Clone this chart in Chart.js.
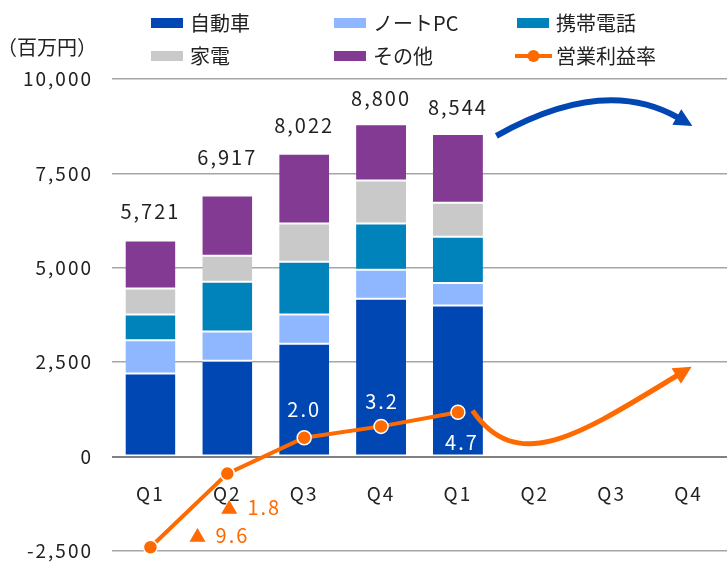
<!DOCTYPE html>
<html lang="ja">
<head>
<meta charset="utf-8">
<title>売上高と営業利益率</title>
<script src="https://cdn.jsdelivr.net/npm/chart.js@4.4.1/dist/chart.umd.min.js"></script>
<style>
  html, body { margin: 0; padding: 0; background: #fff; }
  #wrap { width: 727px; height: 565px; }
</style>
</head>
<body>
<div id="wrap"><canvas id="salesChart"></canvas></div>
<script>
// 四半期
const quarters = ['Q1', 'Q2', 'Q3', 'Q4', 'Q1', 'Q2', 'Q3', 'Q4'];

// 売上高（百万円）
const autoSales  = [2200, 2540, 2990, 4180, 4000, null, null, null];
const pcSales    = [880, 770, 770, 770, 600, null, null, null];
const phoneSales = [680, 1320, 1400, 1220, 1220, null, null, null];
const homeSales  = [690, 690, 1010, 1140, 900, null, null, null];
const otherSales = [1271, 1597, 1852, 1490, 1824, null, null, null];

// 営業利益率（%）
const profitMargin = [-9.6, -1.8, 2.0, 3.2, 4.7, null, null, null];

// 目盛り
const yMin = -2500, yMax = 10000, yStep = 2500;
const marginMin = -10, marginMax = 40;

const FONT = '"Noto Sans CJK JP", "Noto Sans", sans-serif';
const ORANGE = '#ff6a00';
const BLUE = '#0047b3';

// label placement (px from anchor)
const totalLift = [29, 38, 28, 26, 27];
const marginLabelOffset = [[48, -12], [3, 34], [0, -28], [1, -25], [4, 30]];

document.addEventListener('DOMContentLoaded', function () {
    const ctx = document.getElementById('salesChart').getContext('2d');

    const barStyle = {
        type: 'bar',
        stack: 'sales',
        yAxisID: 'y',
        order: 1,
        borderColor: '#ffffff',
        borderWidth: { top: 1, bottom: 1, left: 0, right: 0 },
        borderSkipped: false,
        categoryPercentage: 1,
        barPercentage: 0.65
    };

    // legend, unit label, totals, margin labels and arrows
    const decorations = {
        id: 'decorations',
        beforeDraw(chart) {
            chart.ctx.letterSpacing = '2px';
        },
        afterDatasetsDraw(chart) {
            const c = chart.ctx;
            const x = chart.scales.x, y = chart.scales.y, y2 = chart.scales.y2;
            const barSets = chart.data.datasets.filter(d => d.type === 'bar');

            // arrows
            const arrow = (pts, color, width) => {
                const p = pts.map(([i, v]) => [x.getPixelForValue(i), y.getPixelForValue(v)]);
                const end = p[p.length - 1], prev = p[p.length - 2];
                const ang = Math.atan2(end[1] - prev[1], end[0] - prev[0]);
                const len = 18, half = 9;
                const bx = end[0] - Math.cos(ang) * (len - 2), by = end[1] - Math.sin(ang) * (len - 2);
                c.save();
                c.strokeStyle = color;
                c.fillStyle = color;
                c.lineWidth = width;
                c.beginPath();
                c.moveTo(p[0][0], p[0][1]);
                if (p.length === 3) c.quadraticCurveTo(p[1][0], p[1][1], bx, by);
                else c.bezierCurveTo(p[1][0], p[1][1], p[2][0], p[2][1], bx, by);
                c.stroke();
                c.beginPath();
                c.moveTo(end[0], end[1]);
                c.lineTo(end[0] - Math.cos(ang) * len + Math.sin(ang) * half, end[1] - Math.sin(ang) * len - Math.cos(ang) * half);
                c.lineTo(end[0] - Math.cos(ang) * len - Math.sin(ang) * half, end[1] - Math.sin(ang) * len + Math.cos(ang) * half);
                c.closePath();
                c.fill();
                c.restore();
            };
            arrow([[4.5, 8494], [5.9, 10100], [7.05, 8758]], BLUE, 6);
            arrow([[4.19, 1217], [4.78, -520], [5.6, 600], [7.04, 2381]], ORANGE, 5);

            c.save();
            c.textAlign = 'center';
            c.textBaseline = 'middle';

            // totals above the bars
            c.font = '20px ' + FONT;
            c.fillStyle = '#222222';
            quarters.forEach((q, i) => {
                const vals = barSets.map(d => d.data[i]);
                if (vals[0] === null) return;
                const total = vals.reduce((a, b) => a + b, 0);
                c.fillText(total.toLocaleString('en-US'), x.getPixelForValue(i), y.getPixelForValue(total) - totalLift[i]);
            });

            // margin labels (negative values shown as ▲)
            profitMargin.forEach((m, i) => {
                if (m === null) return;
                const px = x.getPixelForValue(i), py = y2.getPixelForValue(m);
                const [dx, dy] = marginLabelOffset[i];
                c.font = '20px ' + FONT;
                if (m < 0) {
                    c.fillStyle = ORANGE;
                    c.fillText(Math.abs(m).toFixed(1), px + dx + 34, py + dy);
                    c.font = '17px ' + FONT;
                    c.fillText('▲', px + dx, py + dy);
                } else {
                    c.fillStyle = '#ffffff';
                    c.fillText(m.toFixed(1), px + dx, py + dy);
                }
            });
            c.restore();
        },
        afterDraw(chart) {
            const c = chart.ctx;
            c.save();
            c.letterSpacing = '0px';
            c.textBaseline = 'middle';
            c.textAlign = 'left';
            c.font = '20px ' + FONT;
            c.fillStyle = '#222222';
            c.fillText('（百万円）', -3, 47);

            const cols = [151, 334, 517], rows = [23, 56];
            chart.data.datasets.forEach((d, k) => {
                const bx = cols[k % 3], by = rows[Math.floor(k / 3)];
                if (d.type === 'bar') {
                    c.fillStyle = d.backgroundColor;
                    c.fillRect(bx, by - 5, 32, 10);
                } else {
                    c.strokeStyle = d.borderColor;
                    c.lineWidth = 4;
                    c.beginPath();
                    c.moveTo(bx - 2, by);
                    c.lineTo(bx + 35, by);
                    c.stroke();
                    c.fillStyle = d.backgroundColor;
                    c.beginPath();
                    c.arc(bx + 16.5, by, 6, 0, Math.PI * 2);
                    c.fill();
                }
                c.fillStyle = '#222222';
                c.fillText(d.label, bx + 39, by);
            });
            c.restore();
        }
    };

    new Chart(ctx, {
        data: {
            labels: quarters,
            datasets: [
                Object.assign({ label: '自動車', data: autoSales, backgroundColor: '#0047b3' }, barStyle),
                Object.assign({ label: 'ノートPC', data: pcSales, backgroundColor: '#8fb7ff' }, barStyle),
                Object.assign({ label: '携帯電話', data: phoneSales, backgroundColor: '#0082ba' }, barStyle),
                Object.assign({ label: '家電', data: homeSales, backgroundColor: '#c9c9c9' }, barStyle),
                Object.assign({ label: 'その他', data: otherSales, backgroundColor: '#833a93' }, barStyle),
                {
                    type: 'line',
                    label: '営業利益率',
                    data: profitMargin,
                    yAxisID: 'y2',
                    order: 0,
                    borderColor: ORANGE,
                    backgroundColor: ORANGE,
                    borderWidth: 4,
                    pointRadius: 7,
                    pointBorderColor: '#ffffff',
                    pointBorderWidth: 1.5,
                    tension: 0,
                    spanGaps: false,
                    clip: false
                }
            ]
        },
        options: {
            responsive: true,
            maintainAspectRatio: false,
            animation: false,
            layout: { autoPadding: false, padding: { top: 79, bottom: 14, left: 0, right: 0 } },
            plugins: {
                legend: { display: false },
                tooltip: { enabled: false }
            },
            scales: {
                x: {
                    position: { y: 0 },
                    offset: true,
                    afterFit(scale) { scale.paddingLeft = 0; scale.paddingRight = 0; },
                    grid: { display: false },
                    border: { display: false },
                    ticks: {
                        color: '#222222',
                        font: { family: FONT, size: 19 },
                        padding: 18,
                        maxRotation: 0
                    }
                },
                y: {
                    position: 'left',
                    stacked: true,
                    min: yMin,
                    max: yMax,
                    afterFit(scale) {
                        scale.width = 112;
                        scale.paddingTop = 0;
                        scale.paddingBottom = 0;
                    },
                    border: { display: false },
                    grid: {
                        drawTicks: false,
                        color: c => c.tick.value === 0 ? '#808080' : '#a6a6a6',
                        lineWidth: c => c.tick.value === 0 ? 2 : 1.5
                    },
                    ticks: {
                        stepSize: yStep,
                        padding: 19,
                        color: '#222222',
                        font: { family: FONT, size: 19 },
                        callback: v => v.toLocaleString('en-US')
                    }
                },
                y2: {
                    display: false,
                    min: marginMin,
                    max: marginMax,
                    grid: { drawOnChartArea: false }
                }
            }
        },
        plugins: [decorations]
    });
});
</script>
</body>
</html>
